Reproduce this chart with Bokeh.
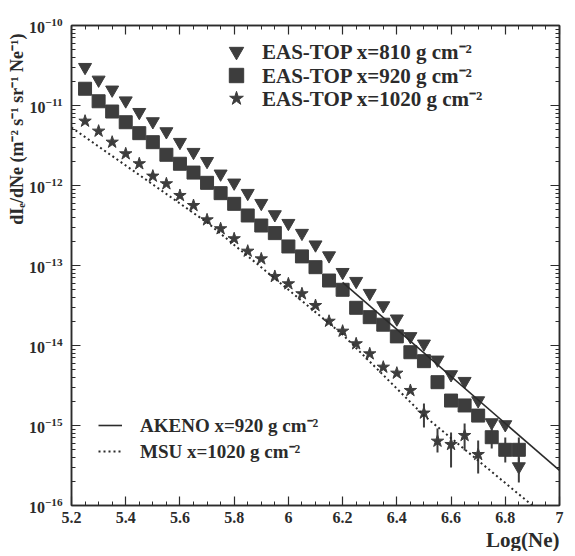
from bokeh.plotting import figure
from bokeh.models import (LogAxis, LinearAxis, FixedTicker, CustomJSTickFormatter,
                          Legend, LegendItem, Title, LogTickFormatter)
from bokeh.embed import file_html
from bokeh.resources import INLINE

# ---------------- data ----------------
log_ne = [5.25, 5.30, 5.35, 5.40, 5.45, 5.50, 5.55, 5.60, 5.65, 5.70, 5.75,
          5.80, 5.85, 5.90, 5.95, 6.00, 6.05, 6.10, 6.15, 6.20, 6.25, 6.30,
          6.35, 6.40, 6.45, 6.50, 6.55, 6.60, 6.65, 6.70, 6.75, 6.80, 6.85]

eas_810 = [3.01e-11, 2.09e-11, 1.57e-11, 1.15e-11, 8.24e-12, 6.31e-12, 4.73e-12,
           3.48e-12, 2.61e-12, 2.01e-12, 1.40e-12, 1.08e-12, 8.02e-13, 6.01e-13,
           4.34e-13, 3.38e-13, 2.54e-13, 1.82e-13, 1.33e-13, 8.24e-14, 6.37e-14,
           4.51e-14, 3.16e-14, 2.16e-14, 1.30e-14, 1.05e-14, 6.62e-15, 4.34e-15,
           3.58e-15, 2.05e-15, 1.09e-15, 1.03e-15, 3.07e-16]

eas_920 = [1.62e-11, 1.13e-11, 8.41e-12, 6.18e-12, 4.51e-12, 3.48e-12, 2.42e-12,
           1.87e-12, 1.45e-12, 1.08e-12, 8.02e-13, 5.90e-13, 4.22e-13, 3.16e-13,
           2.54e-13, 1.73e-13, 1.30e-13, 9.53e-14, 6.49e-14, 4.97e-14, 2.96e-14,
           2.26e-14, 1.82e-14, 1.30e-14, 8.24e-15, 6.37e-15, 3.48e-15, 2.05e-15,
           1.78e-15, 1.33e-15, 7.14e-16, 4.97e-16, 4.97e-16]

log_ne_1020 = [5.25, 5.30, 5.35, 5.40, 5.45, 5.50, 5.55, 5.60, 5.65, 5.70,
               5.75, 5.80, 5.85, 5.90, 5.95, 6.00, 6.05, 6.10, 6.15, 6.20,
               6.25, 6.30, 6.35, 6.40, 6.45, 6.50, 6.55, 6.60, 6.65, 6.70]
eas_1020 = [6.37e-12, 4.78e-12, 3.48e-12, 2.49e-12, 1.87e-12, 1.31e-12, 1.05e-12,
            7.50e-13, 5.62e-13, 3.72e-13, 2.88e-13, 2.16e-13, 1.51e-13, 1.21e-13,
            7.29e-14, 5.90e-14, 4.43e-14, 3.16e-14, 2.01e-14, 1.51e-14, 1.05e-14,
            7.87e-15, 5.36e-15, 4.51e-15, 2.74e-15, 1.43e-15, 6.37e-16, 5.79e-16,
            7.50e-16, 4.34e-16]

# error bars
err_x = [6.50, 6.55, 6.60, 6.65, 6.70, 6.85, 6.75, 6.80, 6.85]
err_hi = [1.88e-15, 9.17e-16, 8.18e-16, 1.06e-15, 6.49e-16, 3.98e-16, 1.15e-15, 7.08e-16, 7.08e-16]
err_lo = [9.44e-16, 4.60e-16, 2.99e-16, 4.87e-16, 2.51e-16, 1.94e-16, 5.16e-16, 3.45e-16, 3.45e-16]

akeno_x = [6.2, 7.0]
akeno_y = [6.15e-14, 2.74e-16]

msu_x = [5.2, 5.7, 6.2, 6.5, 6.9]
msu_y = [5.31e-12, 3.45e-13, 1.37e-14, 1.33e-15, 1.0e-16]

x_ticks = [5.2, 5.4, 5.6, 5.8, 6.0, 6.2, 6.4, 6.6, 6.8, 7.0]
y_ticks = [1e-16, 1e-15, 1e-14, 1e-13, 1e-12, 1e-11, 1e-10]

labels_top = ["EAS-TOP x=810 g cm⁻²", "EAS-TOP x=920 g cm⁻²", "EAS-TOP x=1020 g cm⁻²"]
labels_low = ["AKENO x=920 g cm⁻²", "MSU x=1020 g cm⁻²"]
y_title = "dIₑ/dNe (m⁻² s⁻¹ sr⁻¹ Ne⁻¹)"
x_title = "Log(Ne)"

# ---------------- figure ----------------
FONT = "Liberation Serif"
INK = "#2b2b2b"
MARK = "#3d3d3d"

x_minor = [round(5.2 + 0.05 * i, 2) for i in range(37)]
y_minor = [m * 10.0 ** e for e in range(-16, -10) for m in range(2, 10)]

p = figure(x_range=(5.2, 7.0), y_range=(1e-16, 1e-10), y_axis_type="log",
           frame_width=488, frame_height=480,
           min_border_left=71, min_border_top=25, min_border_right=14, min_border_bottom=40,
           output_backend="svg", toolbar_location=None)
p.xgrid.visible = False
p.ygrid.visible = False
p.outline_line_color = INK
p.outline_line_width = 1.5
p.background_fill_color = "white"
p.border_fill_color = "white"

xt = FixedTicker(ticks=x_ticks, minor_ticks=x_minor)
yt = FixedTicker(ticks=y_ticks, minor_ticks=y_minor)


def style_axis(ax):
    ax.axis_line_color = INK
    ax.axis_line_width = 1.5
    ax.major_tick_in = 9
    ax.major_tick_out = 0
    ax.minor_tick_in = 4
    ax.minor_tick_out = 0
    ax.major_tick_line_color = INK
    ax.minor_tick_line_color = INK
    ax.major_tick_line_width = 1.2
    ax.minor_tick_line_width = 1
    ax.major_label_text_font = FONT
    ax.major_label_text_font_style = "bold"
    ax.major_label_text_color = INK


xa = p.xaxis[0]
xa.ticker = xt
xa.formatter = CustomJSTickFormatter(code="return String(Math.round(tick*10)/10);")
style_axis(xa)
xa.major_label_text_font_size = "16px"
xa.major_label_standoff = 6

ya = p.yaxis[0]
ya.ticker = yt
ya.formatter = LogTickFormatter()
style_axis(ya)
ya.major_label_text_font_size = "16px"
ya.major_label_standoff = 9

blank = "return '';"
top = LinearAxis(ticker=xt, formatter=CustomJSTickFormatter(code=blank))
style_axis(top)
p.add_layout(top, "above")
right = LogAxis(ticker=yt, formatter=CustomJSTickFormatter(code=blank))
style_axis(right)
p.add_layout(right, "right")

# data
tri = p.scatter(log_ne, eas_810, marker="inverted_triangle", size=13, color=MARK)
sq = p.scatter(log_ne, eas_920, marker="square", size=13, color=MARK)
st = p.scatter(log_ne_1020, eas_1020, marker="star", size=13, color=MARK)
p.segment(x0=err_x, y0=err_lo, x1=err_x, y1=err_hi, line_color=MARK, line_width=2)
ak = p.line(akeno_x, akeno_y, line_color=INK, line_width=1.6)
ms = p.line(msu_x, msu_y, line_color=INK, line_width=2, line_dash="2 3")

# one legend per marker row, so that the markers can be large and rows close
for lab, rend, vy in zip(labels_top, [tri, sq, st], [436, 412, 389]):
    lg = Legend(items=[LegendItem(label=lab, renderers=[rend])],
                location=(147, vy), glyph_width=36, glyph_height=36,
                label_standoff=8, padding=0, margin=0,
                border_line_alpha=0, background_fill_alpha=0,
                label_text_font=FONT, label_text_font_style="bold",
                label_text_font_size="21px", label_text_color=INK)
    p.add_layout(lg)

leg2 = Legend(items=[LegendItem(label=labels_low[0], renderers=[ak]),
                     LegendItem(label=labels_low[1], renderers=[ms])],
              location=(27, 41), glyph_width=24, glyph_height=24, spacing=0,
              label_standoff=18, padding=0, margin=0,
              border_line_alpha=0, background_fill_alpha=0,
              label_text_font=FONT, label_text_font_style="bold",
              label_text_font_size="19px", label_text_color=INK)
p.add_layout(leg2)

ylab = Title(text=y_title, align="right", offset=8, standoff=0,
             text_font=FONT, text_font_style="bold", text_font_size="18px",
             text_color=INK)
try:
    ylab.standoff = -3
except Exception:
    ylab.standoff = 0
p.add_layout(ylab, "left")

xlab = Title(text=x_title, align="right", standoff=0, text_font=FONT,
             text_font_style="bold", text_font_size="21px", text_color=INK)
p.add_layout(xlab, "below")

open("out.html", "w").write(file_html(p, INLINE))
